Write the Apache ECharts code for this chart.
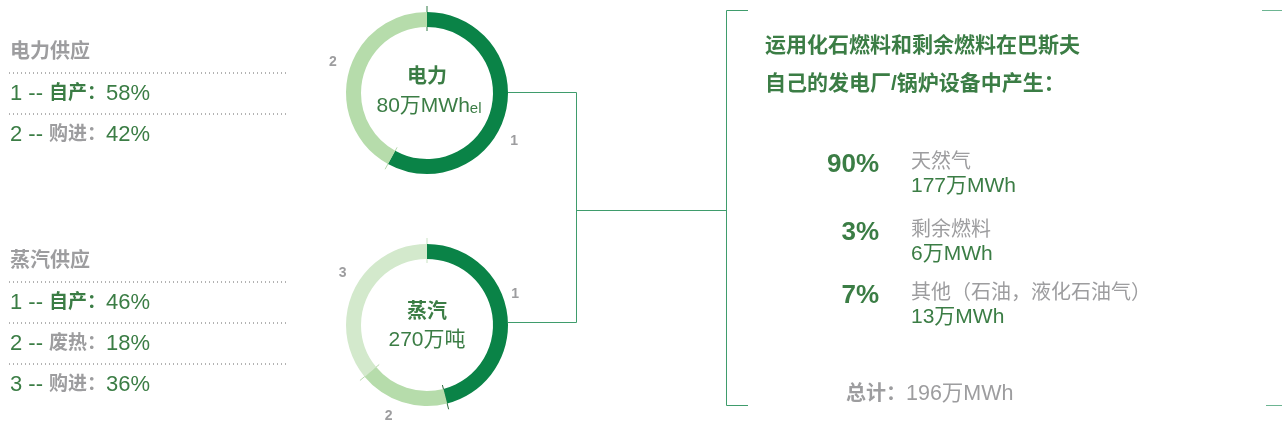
<!DOCTYPE html>
<html><head><meta charset="utf-8">
<script src="https://cdn.jsdelivr.net/npm/echarts@6/dist/echarts.min.js"></script>
<style>html,body{margin:0;padding:0;background:#fff}#c{width:1282px;height:439px}</style>
</head><body><div id="c"></div>
<script>
// ---------------- data ----------------
const powerHeader = '电力供应';
const powerLabels = ['1', '2'];
const powerNames = ['自产', '购进'];
const powerShares = [58, 42];
const powerTitle = '电力';
const powerTotal = '80万MWh';
const powerUnitSub = 'el';

const steamHeader = '蒸汽供应';
const steamLabels = ['1', '2', '3'];
const steamNames = ['自产', '废热', '购进'];
const steamShares = [46, 18, 36];
const steamTitle = '蒸汽';
const steamTotal = '270万吨';

const fuelTitleLines = ['运用化石燃料和剩余燃料在巴斯夫', '自己的发电厂/锅炉设备中产生：'];
const fuelShares = [90, 3, 7];
const fuelNames = ['天然气', '剩余燃料', '其他（石油，液化石油气）'];
const fuelAmounts = [177, 6, 13];
const fuelTotal = 196;
const fuelUnit = '万MWh';
const totalLabel = '总计：';

// ---------------- styles / layout ----------------
const FONT = "'Liberation Sans', Arial, 'Noto Sans CJK SC', sans-serif";
const GREEN_TXT = '#3b7d45';
const GRAY_TXT = '#9d9d9f';
const LINE = '#3f9c6c';
const powerColors = ['#0a8347', '#b6dcab'];
const steamColors = ['#0a8347', '#b6dcab', '#d3e9cc'];
const R_IN = 66, R_OUT = 81;
const powerCenter = [427, 93];
const steamCenter = [427, 325];
// small nudges of the segment number labels (layout only)
const powerLabelNudge = [[-8, 26], [1, -9]];
const steamLabelNudge = [[-9, -20], [-2, 6], [5, -14]];

const chart = echarts.init(document.getElementById('c'), null, {renderer: 'canvas'});

function pieSeries(center, labels, names, shares, colors, nudge) {
  return {
    type: 'pie', center: center, radius: [R_IN, R_OUT],
    startAngle: 90, clockwise: true, silent: true, avoidLabelOverlap: false,
    emphasis: {disabled: true},
    data: shares.map((v, i) => ({value: v, name: names[i], itemStyle: {color: colors[i]}})),
    label: {
      show: true, position: 'outside', fontFamily: FONT, fontWeight: 'bold', fontSize: 14, color: GRAY_TXT,
      formatter: p => labels[p.dataIndex]
    },
    labelLine: {show: false, length: 8, length2: 0},
    labelLayout: p => ({dx: nudge[p.dataIndex][0], dy: nudge[p.dataIndex][1]})
  };
}

const graphics = [];
function txt(x, y, text, style) {
  graphics.push({type: 'text', x: x, y: y, silent: true,
    style: Object.assign({text: text, fontFamily: FONT, verticalAlign: 'middle'}, style)});
}
function line(points, stroke, dash) {
  graphics.push({type: 'polyline', silent: true, shape: {points: points},
    style: {stroke: stroke, lineWidth: 1, fill: null, lineDash: dash || null}});
}

// left legends
function legend(x, headerY, header, labels, names, shares, gap) {
  txt(x, headerY, header, {fontSize: 20, fontWeight: 'bold', fill: GRAY_TXT});
  labels.forEach((l, i) => {
    const dy = headerY + 20.5 + i * gap;
    line([[x - 1, dy + 0.5], [286, dy + 0.5]], '#666', [1, 3]);
    txt(x, dy + 21.5, `{n|${l} -- }{${i === 0 ? 'g' : 'b'}|${names[i]}：}{n|${shares[i]}%}`, {
      rich: {
        n: {fontSize: 22, fill: GREEN_TXT, fontFamily: FONT},
        g: {fontSize: 19, fontWeight: 'bold', fill: GREEN_TXT, fontFamily: FONT},
        b: {fontSize: 19, fontWeight: 'bold', fill: GRAY_TXT, fontFamily: FONT}
      }
    });
  });
}
legend(10, 52, powerHeader, powerLabels, powerNames, powerShares, 41);
legend(10, 261, steamHeader, steamLabels, steamNames, steamShares, 41);

// donut separators derived from the shares
function ticks(center, shares, colors) {
  let c = 0;
  shares.forEach((v, i) => {
    const a = c / 100 * Math.PI * 2;
    const s = Math.sin(a), co = Math.cos(a);
    line([[center[0] + 62 * s, center[1] - 62 * co], [center[0] + 87 * s, center[1] - 87 * co]], colors[i]);
    c += v;
  });
}

// center texts
txt(powerCenter[0], powerCenter[1] - 16, powerTitle, {fontSize: 20, fontWeight: 'bold', fill: GREEN_TXT, align: 'center'});
txt(powerCenter[0] + 2, powerCenter[1] + 13, `{a|${powerTotal}}{b|${powerUnitSub}}`, {align: 'center',
  rich: {a: {fontSize: 21, fill: GREEN_TXT, fontFamily: FONT}, b: {fontSize: 15, fill: GREEN_TXT, fontFamily: FONT, padding: [6, 0, 0, 0]}}});
txt(steamCenter[0], steamCenter[1] - 13, steamTitle, {fontSize: 20, fontWeight: 'bold', fill: GREEN_TXT, align: 'center'});
txt(steamCenter[0], steamCenter[1] + 15, steamTotal, {fontSize: 21, fill: GREEN_TXT, align: 'center'});

// connectors
const ex = powerCenter[0] + R_OUT;
line([[ex, powerCenter[1] - 0.5], [576.5, powerCenter[1] - 0.5], [576.5, steamCenter[1] - 2.5], [ex, steamCenter[1] - 2.5]], LINE);
line([[576.5, 210.5], [726.5, 210.5]], LINE);
line([[748, 10.5], [726.5, 10.5], [726.5, 405.5], [748, 405.5]], LINE);
line([[1262, 10.5], [1282, 10.5]], '#6db592');
line([[1266, 405.5], [1282, 405.5]], '#6db592');

// right panel
fuelTitleLines.forEach((t, i) => txt(765, 46 + i * 38, t, {fontSize: 21, fontWeight: 'bold', fill: GREEN_TXT}));
const rowY = [162, 230, 293];
fuelShares.forEach((v, i) => {
  txt(879, rowY[i] + 3, v + '%', {fontSize: 26, fontWeight: 'bold', fill: GREEN_TXT, align: 'right'});
  txt(911, rowY[i], fuelNames[i], {fontSize: 20, fill: GRAY_TXT});
  txt(911, rowY[i] + 24, fuelAmounts[i] + fuelUnit, {fontSize: 21, fill: GREEN_TXT});
});
txt(846, 394, `{b|${totalLabel}}{n|${fuelTotal}${fuelUnit}}`, {
  rich: {b: {fontSize: 20, fontWeight: 'bold', fill: GRAY_TXT, fontFamily: FONT}, n: {fontSize: 21.5, fill: GRAY_TXT, fontFamily: FONT}}});

ticks(powerCenter, powerShares, ['#2f7a44', '#b9d9b0']);
ticks(steamCenter, steamShares, ['#c9e2c2', '#2f6a3c', '#b9d9b0']);

chart.setOption({
  animation: false,
  backgroundColor: '#fff',
  series: [
    pieSeries(powerCenter, powerLabels, powerNames, powerShares, powerColors, powerLabelNudge),
    pieSeries(steamCenter, steamLabels, steamNames, steamShares, steamColors, steamLabelNudge)
  ],
  graphic: {elements: graphics}
});
</script>
</body></html>
